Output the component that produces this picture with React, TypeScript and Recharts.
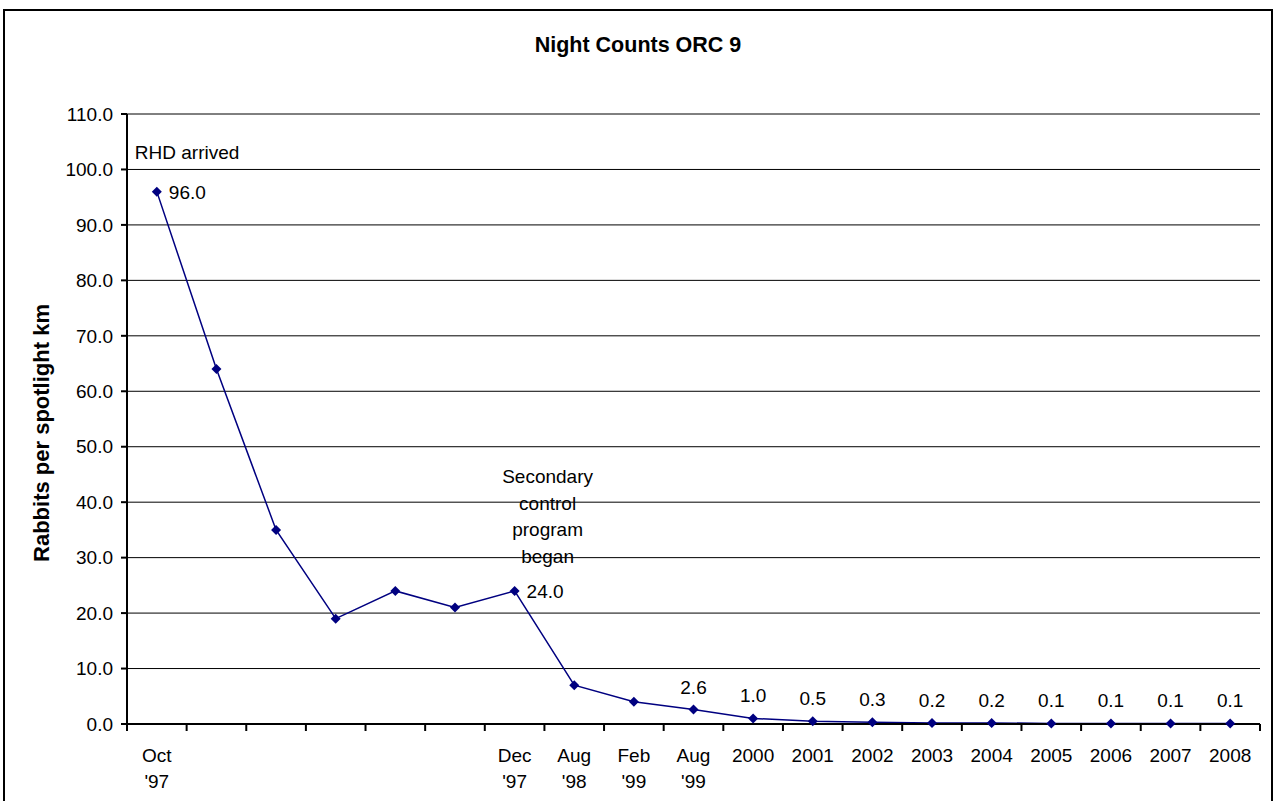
import { CartesianGrid, LabelList, Line, LineChart, XAxis, YAxis } from "recharts";

// survey dates (two-line labels split on \n)
const categories = [
    "Oct\n'97", "", "", "", "", "", "Dec\n'97", "Aug\n'98", "Feb\n'99", "Aug\n'99",
    "2000", "2001", "2002", "2003", "2004", "2005", "2006", "2007", "2008",
];
const rabbits = [96.0, 64.0, 35.0, 19.0, 24.0, 21.0, 24.0, 7.0, 4.0, 2.6, 1.0, 0.5, 0.3, 0.2, 0.2, 0.1, 0.1, 0.1, 0.1];
const notes = [
    "RHD arrived", "", "", "", "", "", "Secondary\ncontrol\nprogram\nbegan", "", "", "",
    "", "", "", "", "", "", "", "", "",
];
const labelledPoints = [0, 6, 9, 10, 11, 12, 13, 14, 15, 16, 17, 18];
const yTicks = [0, 10, 20, 30, 40, 50, 60, 70, 80, 90, 100, 110];

const data = categories.map((c, i) => ({ x: i, label: c, value: rabbits[i], note: notes[i] }));
const labelTicks = categories.map((_, i) => i);
const markTicks = [...categories.map((_, i) => i - 0.5), categories.length - 0.5];

const FONT = '"Liberation Sans", Arial, sans-serif';
const NAVY = "#000080";
const FS = 19;
const AXIS_LINE = { stroke: "#000", strokeWidth: 2 };

function CategoryTick(props: any) {
    const { x, y, payload } = props;
    const text = categories[payload.value] || "";
    const lines = text.split("\n");
    return (
        <text x={x} y={y} textAnchor="middle" fontFamily={FONT} fontSize={FS} fill="#000">
            {lines.map((l, i) => (
                <tspan key={i} x={x} y={y + 29 + i * 26}>{l}</tspan>
            ))}
        </text>
    );
}

function Diamond(props: any) {
    const { cx, cy, index } = props;
    const r = 5;
    return <polygon key={index} points={`${cx},${cy - r} ${cx + r},${cy} ${cx},${cy + r} ${cx - r},${cy}`} fill={NAVY} />;
}

function PointLabel(props: any) {
    const { index, value } = props;
    const px = props.x ?? props.viewBox?.x;
    const py = props.y ?? props.viewBox?.y;
    if (!labelledPoints.includes(index)) return null;
    const note = notes[index];
    const txt = Number(value).toFixed(1);
    if (note) {
        const lines = note.split("\n");
        const single = lines.length === 1;
        return (
            <g>
                <text x={px + 12} y={py + 7} fontFamily={FONT} fontSize={FS} fill="#000">{txt}</text>
                {lines.map((l, i) => (
                    <text
                        key={i}
                        x={single ? px - 22 : px + 33}
                        y={single ? py - 33 : py - 28 - (lines.length - 1 - i) * 26.5}
                        textAnchor={single ? "start" : "middle"}
                        fontFamily={FONT}
                        fontSize={FS}
                        fill="#000"
                    >
                        {l}
                    </text>
                ))}
            </g>
        );
    }
    return (
        <text x={px} y={py - 16} textAnchor="middle" fontFamily={FONT} fontSize={FS} fill="#000">{txt}</text>
    );
}

function YTitle(props: any) {
    const vb = props.viewBox;
    const x = 36;
    const y = vb.y + vb.height / 2 + 14;
    return (
        <text x={x} y={y} transform={`rotate(-90 ${x} ${y})`} textAnchor="middle" dominantBaseline="central"
            fontFamily={FONT} fontSize={22} fontWeight="bold" fill="#000">
            Rabbits per spotlight km
        </text>
    );
}

export default function App() {
    return (
        <div style={{
            position: "absolute", left: 3, top: 9, width: 1270, height: 800,
            border: "2px solid #000", boxSizing: "border-box", background: "#fff", overflow: "hidden",
        }}>
            <div style={{
                position: "absolute", left: 0, right: 0, top: 22, textAlign: "center",
                fontFamily: FONT, fontWeight: "bold", fontSize: 21.5, lineHeight: "24px",
            }}>
                Night Counts ORC 9
            </div>
            <LineChart width={1266} height={790} data={data} margin={{ top: 103, right: 11, bottom: 0, left: 0 }}>
                <CartesianGrid vertical={false} stroke="#000" strokeWidth={1} />
                <XAxis
                    xAxisId="a_marks"
                    dataKey="x"
                    type="number"
                    domain={[-0.5, categories.length - 0.5]}
                    ticks={markTicks}
                    interval={0}
                    height={1}
                    tickSize={7}
                    stroke="#000"
                    tickLine={AXIS_LINE}
                    axisLine={AXIS_LINE}
                    tick={() => <g />}
                />
                <XAxis
                    xAxisId="b_cats"
                    dataKey="x"
                    type="number"
                    domain={[-0.5, categories.length - 0.5]}
                    ticks={labelTicks}
                    interval={0}
                    height={76}
                    tickLine={false}
                    axisLine={false}
                    tick={<CategoryTick />}
                />
                <YAxis
                    domain={[0, 110]}
                    ticks={yTicks}
                    interval={0}
                    width={122}
                    tickSize={6}
                    tickMargin={8}
                    stroke="#000"
                    axisLine={AXIS_LINE}
                    tickLine={AXIS_LINE}
                    tickFormatter={(v: number) => v.toFixed(1)}
                    tick={{ fill: "#000", fontFamily: FONT, fontSize: FS }}
                    label={<YTitle />}
                />
                <Line
                    xAxisId="b_cats"
                    dataKey="value"
                    stroke={NAVY}
                    strokeWidth={1.5}
                    dot={(p: any) => <Diamond key={p.index} {...p} />}
                    activeDot={false}
                    isAnimationActive={false}
                >
                    <LabelList dataKey="value" content={(p: any) => <PointLabel {...p} />} />
                </Line>
            </LineChart>
        </div>
    );
}
